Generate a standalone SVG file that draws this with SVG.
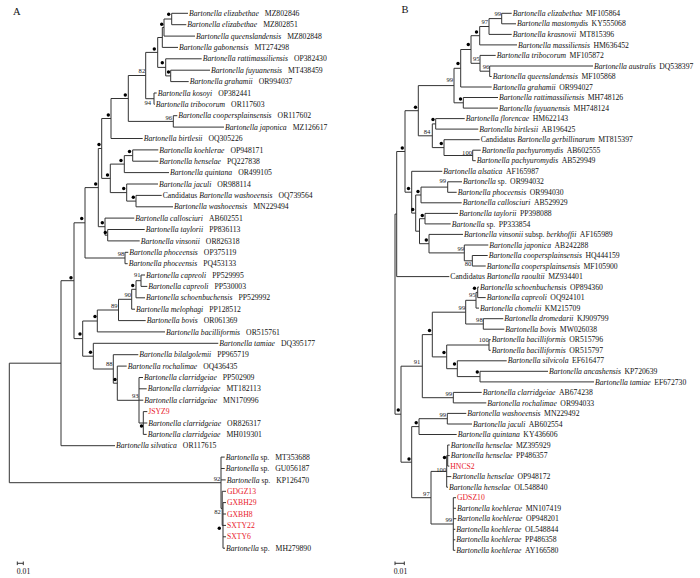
<svg xmlns="http://www.w3.org/2000/svg" width="700" height="578" viewBox="0 0 700 578">
<style>
.e path{fill:none;stroke:#333;stroke-width:1}
.t{font-family:"Liberation Serif","Times New Roman",serif;font-size:7.7px;fill:#111}
.i{font-style:italic}
.r{fill:#e8202a}
.s{font-family:"Liberation Serif","Times New Roman",serif;font-size:6.6px;fill:#222;text-anchor:end}
.d circle{fill:#000}
.p{font-family:"Liberation Serif","Times New Roman",serif;font-size:10.5px;fill:#111}
</style>
<rect width="700" height="578" fill="#fff"/>
<text class="p" x="13" y="14.5">A</text>
<text class="p" x="401.5" y="12.5">B</text>
<g id="edges" class="e">
<path d="M171.7,13.3V24.7M171.7,13.3H188M171.7,24.7H186.3"/>
<path d="M164,19V36.1M164,19H171.7M164,36.1H195"/>
<path d="M162.3,27.5V47.4M162.3,27.5H164M162.3,47.4H178"/>
<path d="M170.7,70.2V81.6M170.7,70.2H210M170.7,81.6H188.7"/>
<path d="M165.7,58.8V75.9M165.7,58.8H201.7M165.7,75.9H170.7"/>
<path d="M157.7,37.5V67.4M157.7,37.5H162.3M157.7,67.4H165.7"/>
<path d="M154,93V104.3M154,93H156.7M154,104.3H154.7"/>
<path d="M145.7,52.4V98.7M145.7,52.4H157.7M145.7,98.7H154"/>
<path d="M173.3,115.7V127.1M173.3,115.7H177.3M173.3,127.1H224"/>
<path d="M128.3,75.5V121.4M128.3,75.5H145.7M128.3,121.4H173.3"/>
<path d="M111,98.5V138.5M111,98.5H128.3M111,138.5H142.7"/>
<path d="M132.7,149.9V161.2M132.7,149.9H158.3M132.7,161.2H158.3"/>
<path d="M124.3,155.6V172.6M124.3,155.6H132.7M124.3,172.6H169"/>
<path d="M136,195.4V206.8M136,195.4H161.7M136,206.8H173"/>
<path d="M126.7,184V201.1M126.7,184H158M126.7,201.1H136"/>
<path d="M110.3,164.1V192.6M110.3,164.1H124.3M110.3,192.6H126.7"/>
<path d="M101.7,118.5V178.4M101.7,118.5H111M101.7,178.4H110.3"/>
<path d="M107.7,229.5V240.9M107.7,229.5H144.7M107.7,240.9H139.7"/>
<path d="M105,218.1V235.2M105,218.1H134.3M105,235.2H107.7"/>
<path d="M98.3,148.5V226.7M98.3,148.5H101.7M98.3,226.7H105"/>
<path d="M125,252.3V263.7M125,252.3H128.3M125,263.7H127.7"/>
<path d="M85,187.6V258M85,187.6H98.3M85,258H125"/>
<path d="M141,275V286.4M141,275H145M141,286.4H147.3"/>
<path d="M136,280.7V297.8M136,280.7H141M136,297.8H145"/>
<path d="M131.7,289.3V309.2M131.7,289.3H136M131.7,309.2H135"/>
<path d="M118.5,299.3V320.6M118.5,299.3H131.7M118.5,320.6H145.7"/>
<path d="M97.3,310V331.9M97.3,310H118.5M97.3,331.9H165"/>
<path d="M143.3,411.6V434.4M143.3,411.6H147.3M143.3,423H147.3M143.3,434.4H146.7"/>
<path d="M139,377.5V423M139,377.5H143M139,388.8H146.7M139,400.2H143.3M139,423H143.3"/>
<path d="M117.3,366.1V400.3M117.3,366.1H126.7M117.3,400.3H139"/>
<path d="M113.3,354.7V383.2M113.3,354.7H138.3M113.3,383.2H117.3"/>
<path d="M93.3,343.3V369M93.3,343.3H218.3M93.3,369H113.3"/>
<path d="M82.7,321V356.2M82.7,321H97.3M82.7,356.2H93.3"/>
<path d="M74,222.8V338.6M74,222.8H85M74,338.6H82.7"/>
<path d="M61,280.7V445.7M61,280.7H74M61,445.7H115"/>
<path d="M223,502.6V548.2M223,502.6H226M223,514H226M223,525.4H226M223,536.8H226M223,548.2H225"/>
<path d="M222.2,491.3V525.4M222.2,491.3H226M222.2,525.4H223"/>
<path d="M221,457.1V508.4M221,457.1H224.7M221,468.5H224.7M221,479.9H225.7M221,508.4H222.2"/>
<path d="M9.3,363.2V482.7M9.3,363.2H61M9.3,482.7H221"/>
<path d="M17.3,563.3H23.3M17.3,561.5V565.1M23.3,561.5V565.1"/>
<path d="M501.7,13.3V23.8M501.7,13.3H511.7M501.7,23.8H516"/>
<path d="M489,18.6V34.4M489,18.6H501.7M489,34.4H511.7"/>
<path d="M479.7,26.5V44.9M479.7,26.5H489M479.7,44.9H517"/>
<path d="M489.7,66V76.5M489.7,66H593M489.7,76.5H491.7"/>
<path d="M480,55.4V71.2M480,55.4H495.7M480,71.2H489.7"/>
<path d="M471,35.7V63.3M471,35.7H479.7M471,63.3H480"/>
<path d="M460.7,49.5V87M460.7,49.5H471M460.7,87H491.7"/>
<path d="M463.3,97.5V108.1M463.3,97.5H498M463.3,108.1H498"/>
<path d="M454,68.3V102.8M454,68.3H460.7M454,102.8H463.3"/>
<path d="M435.7,118.6V129.1M435.7,118.6H464.7M435.7,129.1H478.3"/>
<path d="M472.7,150.2V160.7M472.7,150.2H480.7M472.7,160.7H475.7"/>
<path d="M444,139.7V155.5M444,139.7H479.7M444,155.5H472.7"/>
<path d="M432.3,123.9V147.6M432.3,123.9H435.7M432.3,147.6H444"/>
<path d="M418.3,85.6V135.8M418.3,85.6H454M418.3,135.8H432.3"/>
<path d="M447.7,181.8V192.3M447.7,181.8H462M447.7,192.3H456.7"/>
<path d="M421,187.1V202.8M421,187.1H447.7M421,202.8H461.7"/>
<path d="M425,213.4V223.9M425,213.4H458M425,223.9H450.7"/>
<path d="M472.3,255.5V266M472.3,255.5H487.7M472.3,266H485.7"/>
<path d="M464.3,245V260.8M464.3,245H488.3M464.3,260.8H472.3"/>
<path d="M429,234.4V252.9M429,234.4H463M429,252.9H464.3"/>
<path d="M419.5,218.7V243.7M419.5,218.7H425M419.5,243.7H429"/>
<path d="M415.7,195V231.2M415.7,195H421M415.7,231.2H419.5"/>
<path d="M411.7,171.3V213.1M411.7,171.3H442.3M411.7,213.1H415.7"/>
<path d="M405,110.7V192.2M405,110.7H418.3M405,192.2H411.7"/>
<path d="M396.7,151.5V276.6M396.7,151.5H405M396.7,276.6H449.3"/>
<path d="M477.7,287.1V297.6M477.7,287.1H479M477.7,297.6H485.7"/>
<path d="M476,292.4V308.1M476,292.4H477.7M476,308.1H479"/>
<path d="M483.3,318.7V329.2M483.3,318.7H503.3M483.3,329.2H504.3"/>
<path d="M465.7,300.3V324M465.7,300.3H476M465.7,324H483.3"/>
<path d="M489,339.7V350.3M489,339.7H490.7M489,350.3H490.7"/>
<path d="M480,371.3V381.9M480,371.3H548M480,381.9H594"/>
<path d="M457.3,360.8V376.6M457.3,360.8H506.7M457.3,376.6H480"/>
<path d="M446.7,345V368.7M446.7,345H489M446.7,368.7H457.3"/>
<path d="M432.3,312.2V356.9M432.3,312.2H465.7M432.3,356.9H446.7"/>
<path d="M453.3,392.4V402.9M453.3,392.4H481.7M453.3,402.9H486.3"/>
<path d="M422.3,334.6V397.7M422.3,334.6H432.3M422.3,397.7H453.3"/>
<path d="M447.3,413.4V424M447.3,413.4H466.3M447.3,424H472"/>
<path d="M419,418.7V434.5M419,418.7H447.3M419,434.5H456.7"/>
<path d="M447.7,445V466.1M447.7,445H449.7M447.7,455.6H449.7M447.7,466.1H449.3"/>
<path d="M446.7,455.6V487.2M446.7,455.6H447.7M446.7,476.6H451.3M446.7,487.2H448"/>
<path d="M453.3,497.7V550.3M453.3,497.7H456M453.3,508.2H456M453.3,518.7H456.3M453.3,529.3H455.3M453.3,539.8H455.3M453.3,550.3H455.3"/>
<path d="M431,471.4V524M431,471.4H446.7M431,524H453.3"/>
<path d="M411.7,426.6V497.7M411.7,426.6H419M411.7,497.7H431"/>
<path d="M401,366.2V462.2M401,366.2H422.3M401,462.2H411.7"/>
<path d="M395,214.1V414.2M395,214.1H396.7M395,414.2H401"/>
<path d="M395,563.3H404.3M395,561.5V565.1M404.3,561.5V565.1"/>
</g>
<g id="dots" class="d">
<circle cx="168.7" cy="14.3" r="1.7"/><circle cx="161.7" cy="24.3" r="1.7"/><circle cx="154.3" cy="49" r="1.7"/><circle cx="162.3" cy="62.7" r="1.7"/><circle cx="168.5" cy="72" r="1.7"/><circle cx="125.3" cy="95" r="1.7"/><circle cx="108.3" cy="115" r="1.7"/><circle cx="99" cy="144.5" r="1.7"/><circle cx="129.5" cy="151.5" r="1.7"/><circle cx="121" cy="160.5" r="1.7"/><circle cx="123.7" cy="188.5" r="1.7"/><circle cx="133.3" cy="197.3" r="1.7"/><circle cx="107.5" cy="175" r="1.7"/><circle cx="95.7" cy="184" r="1.7"/><circle cx="102.3" cy="222.7" r="1.7"/><circle cx="105.3" cy="232.5" r="1.7"/><circle cx="81.7" cy="218.5" r="1.7"/><circle cx="71" cy="277.7" r="1.7"/><circle cx="132.7" cy="285.5" r="1.7"/><circle cx="95" cy="316.5" r="1.7"/><circle cx="80" cy="334" r="1.7"/><circle cx="90.5" cy="352.3" r="1.7"/><circle cx="115" cy="379.5" r="1.7"/><circle cx="141.5" cy="426" r="1.7"/><circle cx="219.3" cy="528.3" r="1.7"/>
<circle cx="476.5" cy="32" r="1.7"/><circle cx="468.3" cy="44.5" r="1.7"/><circle cx="458" cy="63.5" r="1.7"/><circle cx="460.5" cy="99" r="1.7"/><circle cx="415.5" cy="107.3" r="1.7"/><circle cx="433" cy="119.5" r="1.7"/><circle cx="441.3" cy="143.5" r="1.7"/><circle cx="402.3" cy="148" r="1.7"/><circle cx="408.5" cy="188.5" r="1.7"/><circle cx="412.7" cy="209.5" r="1.7"/><circle cx="418" cy="191.5" r="1.7"/><circle cx="422.3" cy="215.5" r="1.7"/><circle cx="426.3" cy="240" r="1.7"/><circle cx="474.5" cy="288.3" r="1.7"/><circle cx="429.5" cy="330.5" r="1.7"/><circle cx="444" cy="352.5" r="1.7"/><circle cx="454.5" cy="364" r="1.7"/><circle cx="477.3" cy="372" r="1.7"/><circle cx="398.3" cy="410" r="1.7"/><circle cx="416.2" cy="422.7" r="1.7"/><circle cx="409" cy="459" r="1.7"/><circle cx="444.5" cy="457.5" r="1.7"/>
</g>
<g id="supports" class="s">
<text x="145.2" y="73">82</text><text x="151" y="105">94</text><text x="172" y="119.6">96</text><text x="124.3" y="255.6">98</text><text x="140.5" y="277.3">91</text><text x="131" y="296.6">90</text><text x="117.5" y="307.5">89</text><text x="112.5" y="366.3">88</text><text x="138.5" y="398.3">93</text><text x="220.3" y="480.6">92</text><text x="220.8" y="514">82</text>
<text x="501" y="15.6">99</text><text x="488" y="24">97</text><text x="479.5" y="60.6">95</text><text x="489.3" y="69">96</text><text x="453" y="82.3">99</text><text x="430.3" y="134">84</text><text x="472" y="154.6">100</text><text x="446" y="183.3">99</text><text x="464" y="250.6">99</text><text x="471.3" y="265.6">80</text><text x="475.5" y="297.3">95</text><text x="465.2" y="309.6">99</text><text x="482.7" y="321.6">98</text><text x="488.7" y="342.3">100</text><text x="420.3" y="364">91</text><text x="452" y="395.6">99</text><text x="446" y="416.6">99</text><text x="446.2" y="471.6">100</text><text x="429.7" y="496.3">97</text><text x="452" y="521.6">99</text>
</g>
<g id="scale" class="t">
<text x="23.5" y="573.5" text-anchor="middle">0.01</text>
<text x="400.5" y="573.5" text-anchor="middle">0.01</text>
</g>
<g id="leavesA" class="t">
<g id="a01"><text x="189" y="15.9"><tspan class="i">Bartonella elizabethae</tspan><tspan dx="6">MZ802846</tspan></text></g>
<g id="a02"><text x="187.3" y="27.3"><tspan class="i">Bartonella elizabethae</tspan><tspan dx="6">MZ802851</tspan></text></g>
<g id="a03"><text x="196" y="38.7"><tspan class="i">Bartonella queenslandensis</tspan><tspan dx="6">MZ802848</tspan></text></g>
<g id="a04"><text x="179" y="50"><tspan class="i">Bartonella gabonensis</tspan><tspan dx="6">MT274298</tspan></text></g>
<g id="a05"><text x="202.7" y="61.4"><tspan class="i">Bartonella rattimassiliensis</tspan><tspan dx="6">OP382430</tspan></text></g>
<g id="a06"><text x="211" y="72.8"><tspan class="i">Bartonella fuyuanensis</tspan><tspan dx="6">MT438459</tspan></text></g>
<g id="a07"><text x="189.7" y="84.2"><tspan class="i">Bartonella grahamii</tspan><tspan dx="6">OR994037</tspan></text></g>
<g id="a08"><text x="157.7" y="95.6"><tspan class="i">Bartonella kosoyi</tspan><tspan dx="6">OP382441</tspan></text></g>
<g id="a09"><text x="155.7" y="106.9"><tspan class="i">Bartonella tribocorum</tspan><tspan dx="6">OR117603</tspan></text></g>
<g id="a10"><text x="178.3" y="118.3"><tspan class="i">Bartonella coopersplainsensis</tspan><tspan dx="6">OR117602</tspan></text></g>
<g id="a11"><text x="225" y="129.7"><tspan class="i">Bartonella japonica</tspan><tspan dx="6">MZ126617</tspan></text></g>
<g id="a12"><text x="143.7" y="141.1"><tspan class="i">Bartonella birtlesii</tspan><tspan dx="6">OQ305226</tspan></text></g>
<g id="a13"><text x="159.3" y="152.5"><tspan class="i">Bartonella koehlerae</tspan><tspan dx="6">OP948171</tspan></text></g>
<g id="a14"><text x="159.3" y="163.8"><tspan class="i">Bartonella henselae</tspan><tspan dx="6">PQ227838</tspan></text></g>
<g id="a15"><text x="170" y="175.2"><tspan class="i">Bartonella quintana</tspan><tspan dx="6">OR499105</tspan></text></g>
<g id="a16"><text x="159" y="186.6"><tspan class="i">Bartonella jaculi</tspan><tspan dx="6">OR988114</tspan></text></g>
<g id="a17"><text x="162.7" y="198"><tspan>Candidatus </tspan><tspan class="i">Bartonella washoeensis</tspan><tspan dx="6">OQ739564</tspan></text></g>
<g id="a18"><text x="174" y="209.4"><tspan class="i">Bartonella washoeensis</tspan><tspan dx="6">MN229494</tspan></text></g>
<g id="a19"><text x="135.3" y="220.7"><tspan class="i">Bartonella callosciuri</tspan><tspan dx="6">AB602551</tspan></text></g>
<g id="a20"><text x="145.7" y="232.1"><tspan class="i">Bartonella taylorii</tspan><tspan dx="6">PP836113</tspan></text></g>
<g id="a21"><text x="140.7" y="243.5"><tspan class="i">Bartonella vinsonii</tspan><tspan dx="6">OR826318</tspan></text></g>
<g id="a22"><text x="129.3" y="254.9"><tspan class="i">Bartonella phoceensis</tspan><tspan dx="6">OP375119</tspan></text></g>
<g id="a23"><text x="128.7" y="266.3"><tspan class="i">Bartonella phoceensis</tspan><tspan dx="6">PQ453133</tspan></text></g>
<g id="a24"><text x="146" y="277.6"><tspan class="i">Bartonella capreoli</tspan><tspan dx="6">PP529995</tspan></text></g>
<g id="a25"><text x="148.3" y="289"><tspan class="i">Bartonella capreoli</tspan><tspan dx="6">PP530003</tspan></text></g>
<g id="a26"><text x="146" y="300.4"><tspan class="i">Bartonella schoenbuchensis</tspan><tspan dx="6">PP529992</tspan></text></g>
<g id="a27"><text x="136" y="311.8"><tspan class="i">Bartonella melophagi</tspan><tspan dx="6">PP128512</tspan></text></g>
<g id="a28"><text x="146.7" y="323.2"><tspan class="i">Bartonella bovis</tspan><tspan dx="6">OR061369</tspan></text></g>
<g id="a29"><text x="166" y="334.5"><tspan class="i">Bartonella bacilliformis</tspan><tspan dx="6">OR515761</tspan></text></g>
<g id="a30"><text x="219.3" y="345.9"><tspan class="i">Bartonella tamiae</tspan><tspan dx="6">DQ395177</tspan></text></g>
<g id="a31"><text x="139.3" y="357.3"><tspan class="i">Bartonella bilalgolemii</tspan><tspan dx="6">PP965719</tspan></text></g>
<g id="a32"><text x="127.7" y="368.7"><tspan class="i">Bartonella rochalimae</tspan><tspan dx="6">OQ436435</tspan></text></g>
<g id="a33"><text x="144" y="380.1"><tspan class="i">Bartonella clarridgeiae</tspan><tspan dx="6">PP502909</tspan></text></g>
<g id="a34"><text x="147.7" y="391.4"><tspan class="i">Bartonella clarridgeiae</tspan><tspan dx="6">MT182113</tspan></text></g>
<g id="a35"><text x="144.3" y="402.8"><tspan class="i">Bartonella clarridgeiae</tspan><tspan dx="6">MN170996</tspan></text></g>
<g id="a36"><text class="r" x="148.3" y="414.2">JSYZ9</text></g>
<g id="a37"><text x="148.3" y="425.6"><tspan class="i">Bartonella clarridgeiae</tspan><tspan dx="6">OR826317</tspan></text></g>
<g id="a38"><text x="147.7" y="437"><tspan class="i">Bartonella clarridgeiae</tspan><tspan dx="6">MH019301</tspan></text></g>
<g id="a39"><text x="116" y="448.3"><tspan class="i">Bartonella silvatica</tspan><tspan dx="6">OR117615</tspan></text></g>
<g id="a40"><text x="225.7" y="459.7"><tspan class="i">Bartonella</tspan><tspan> sp.</tspan><tspan dx="6">MT353688</tspan></text></g>
<g id="a41"><text x="225.7" y="471.1"><tspan class="i">Bartonella</tspan><tspan> sp.</tspan><tspan dx="6">GU056187</tspan></text></g>
<g id="a42"><text x="226.7" y="482.5"><tspan class="i">Bartonella</tspan><tspan> sp.</tspan><tspan dx="6">KP126470</tspan></text></g>
<g id="a43"><text class="r" x="227" y="493.9">GDGZ13</text></g>
<g id="a44"><text class="r" x="227" y="505.2">GXBH29</text></g>
<g id="a45"><text class="r" x="227" y="516.6">GXBH8</text></g>
<g id="a46"><text class="r" x="227" y="528">SXTY22</text></g>
<g id="a47"><text class="r" x="227" y="539.4">SXTY6</text></g>
<g id="a48"><text x="226" y="550.8"><tspan class="i">Bartonella</tspan><tspan> sp.</tspan><tspan dx="6">MH279890</tspan></text></g>
</g>
<g id="leavesB" class="t">
<g id="b01"><text x="512.7" y="15.9"><tspan class="i">Bartonella elizabethae</tspan><tspan dx="3.5">MF105864</tspan></text></g>
<g id="b02"><text x="517" y="26.4"><tspan class="i">Bartonella mastomydis</tspan><tspan dx="3.5">KY555068</tspan></text></g>
<g id="b03"><text x="512.7" y="37"><tspan class="i">Bartonella krasnovii</tspan><tspan dx="3.5">MT815396</tspan></text></g>
<g id="b04"><text x="518" y="47.5"><tspan class="i">Bartonella massiliensis</tspan><tspan dx="3.5">HM636452</tspan></text></g>
<g id="b05"><text x="496.7" y="58"><tspan class="i">Bartonella tribocorum</tspan><tspan dx="3.5">MF105872</tspan></text></g>
<g id="b06"><text x="594" y="68.6"><tspan class="i">Bartonella australis</tspan><tspan dx="3.5">DQ538397</tspan></text></g>
<g id="b07"><text x="492.7" y="79.1"><tspan class="i">Bartonella queenslandensis</tspan><tspan dx="3.5">MF105868</tspan></text></g>
<g id="b08"><text x="492.7" y="89.6"><tspan class="i">Bartonella grahamii</tspan><tspan dx="3.5">OR994027</tspan></text></g>
<g id="b09"><text x="499" y="100.1"><tspan class="i">Bartonella rattimassiliensis</tspan><tspan dx="3.5">MH748126</tspan></text></g>
<g id="b10"><text x="499" y="110.7"><tspan class="i">Bartonella fuyuanensis</tspan><tspan dx="3.5">MH748124</tspan></text></g>
<g id="b11"><text x="465.7" y="121.2"><tspan class="i">Bartonella florencae</tspan><tspan dx="3.5">HM622143</tspan></text></g>
<g id="b12"><text x="479.3" y="131.7"><tspan class="i">Bartonella birtlesii</tspan><tspan dx="3.5">AB196425</tspan></text></g>
<g id="b13"><text x="480.7" y="142.3"><tspan>Candidatus </tspan><tspan class="i">Bartonella gerbillinarum</tspan><tspan dx="3.5">MT815397</tspan></text></g>
<g id="b14"><text x="481.7" y="152.8"><tspan class="i">Bartonella pachyuromydis</tspan><tspan dx="3.5">AB602555</tspan></text></g>
<g id="b15"><text x="476.7" y="163.3"><tspan class="i">Bartonella pachyuromydis</tspan><tspan dx="3.5">AB529949</tspan></text></g>
<g id="b16"><text x="443.3" y="173.9"><tspan class="i">Bartonella alsatica</tspan><tspan dx="3.5">AF165987</tspan></text></g>
<g id="b17"><text x="463" y="184.4"><tspan class="i">Bartonella</tspan><tspan> sp.</tspan><tspan dx="3.5">OR994032</tspan></text></g>
<g id="b18"><text x="457.7" y="194.9"><tspan class="i">Bartonella phoceensis</tspan><tspan dx="3.5">OR994030</tspan></text></g>
<g id="b19"><text x="462.7" y="205.4"><tspan class="i">Bartonella callosciuri</tspan><tspan dx="3.5">AB529929</tspan></text></g>
<g id="b20"><text x="459" y="216"><tspan class="i">Bartonella taylorii</tspan><tspan dx="3.5">PP398088</tspan></text></g>
<g id="b21"><text x="451.7" y="226.5"><tspan class="i">Bartonella</tspan><tspan> sp.</tspan><tspan dx="3.5">PP333854</tspan></text></g>
<g id="b22"><text x="464" y="237"><tspan class="i">Bartonella vinsonii</tspan><tspan> subsp. </tspan><tspan class="i">berkhoffii</tspan><tspan dx="3.5">AF165989</tspan></text></g>
<g id="b23"><text x="489.3" y="247.6"><tspan class="i">Bartonella japonica</tspan><tspan dx="3.5">AB242288</tspan></text></g>
<g id="b24"><text x="488.7" y="258.1"><tspan class="i">Bartonella coopersplainsensis</tspan><tspan dx="3.5">HQ444159</tspan></text></g>
<g id="b25"><text x="486.7" y="268.6"><tspan class="i">Bartonella coopersplainsensis</tspan><tspan dx="3.5">MF105900</tspan></text></g>
<g id="b26"><text x="450.3" y="279.2"><tspan>Candidatus </tspan><tspan class="i">Bartonella raoultii</tspan><tspan dx="3.5">MZ934401</tspan></text></g>
<g id="b27"><text x="480" y="289.7"><tspan class="i">Bartonella schoenbuchensis</tspan><tspan dx="3.5">OP894360</tspan></text></g>
<g id="b28"><text x="486.7" y="300.2"><tspan class="i">Bartonella capreoli</tspan><tspan dx="3.5">OQ924101</tspan></text></g>
<g id="b29"><text x="480" y="310.7"><tspan class="i">Bartonella chomelii</tspan><tspan dx="3.5">KM215709</tspan></text></g>
<g id="b30"><text x="504.3" y="321.3"><tspan class="i">Bartonella dromedarii</tspan><tspan dx="3.5">KJ909799</tspan></text></g>
<g id="b31"><text x="505.3" y="331.8"><tspan class="i">Bartonella bovis</tspan><tspan dx="3.5">MW026038</tspan></text></g>
<g id="b32"><text x="491.7" y="342.3"><tspan class="i">Bartonella bacilliformis</tspan><tspan dx="3.5">OR515796</tspan></text></g>
<g id="b33"><text x="491.7" y="352.9"><tspan class="i">Bartonella bacilliformis</tspan><tspan dx="3.5">OR515797</tspan></text></g>
<g id="b34"><text x="507.7" y="363.4"><tspan class="i">Bartonella silvicola</tspan><tspan dx="3.5">EF616477</tspan></text></g>
<g id="b35"><text x="549" y="373.9"><tspan class="i">Bartonella ancashensis</tspan><tspan dx="3.5">KP720639</tspan></text></g>
<g id="b36"><text x="595" y="384.5"><tspan class="i">Bartonella tamiae</tspan><tspan dx="3.5">EF672730</tspan></text></g>
<g id="b37"><text x="482.7" y="395"><tspan class="i">Bartonella clarridgeiae</tspan><tspan dx="3.5">AB674238</tspan></text></g>
<g id="b38"><text x="487.3" y="405.5"><tspan class="i">Bartonella rochalimae</tspan><tspan dx="3.5">OR994033</tspan></text></g>
<g id="b39"><text x="467.3" y="416"><tspan class="i">Bartonella washoeensis</tspan><tspan dx="3.5">MN229492</tspan></text></g>
<g id="b40"><text x="473" y="426.6"><tspan class="i">Bartonella jaculi</tspan><tspan dx="3.5">AB602554</tspan></text></g>
<g id="b41"><text x="457.7" y="437.1"><tspan class="i">Bartonella quintana</tspan><tspan dx="3.5">KY436606</tspan></text></g>
<g id="b42"><text x="450.7" y="447.6"><tspan class="i">Bartonella henselae</tspan><tspan dx="3.5">MZ395929</tspan></text></g>
<g id="b43"><text x="450.7" y="458.2"><tspan class="i">Bartonella henselae</tspan><tspan dx="3.5">PP486357</tspan></text></g>
<g id="b44"><text class="r" x="450.3" y="468.7">HNCS2</text></g>
<g id="b45"><text x="452.3" y="479.2"><tspan class="i">Bartonella henselae</tspan><tspan dx="3.5">OP948172</tspan></text></g>
<g id="b46"><text x="449" y="489.8"><tspan class="i">Bartonella henselae</tspan><tspan dx="3.5">OL548840</tspan></text></g>
<g id="b47"><text class="r" x="457" y="500.3">GDSZ10</text></g>
<g id="b48"><text x="457" y="510.8"><tspan class="i">Bartonella koehlerae</tspan><tspan dx="3.5">MN107419</tspan></text></g>
<g id="b49"><text x="457.3" y="521.3"><tspan class="i">Bartonella koehlerae</tspan><tspan dx="3.5">OP948201</tspan></text></g>
<g id="b50"><text x="456.3" y="531.9"><tspan class="i">Bartonella koehlerae</tspan><tspan dx="3.5">OL548844</tspan></text></g>
<g id="b51"><text x="456.3" y="542.4"><tspan class="i">Bartonella koehlerae</tspan><tspan dx="3.5">PP486358</tspan></text></g>
<g id="b52"><text x="456.3" y="552.9"><tspan class="i">Bartonella koehlerae</tspan><tspan dx="3.5">AY166580</tspan></text></g>
</g>
</svg>
